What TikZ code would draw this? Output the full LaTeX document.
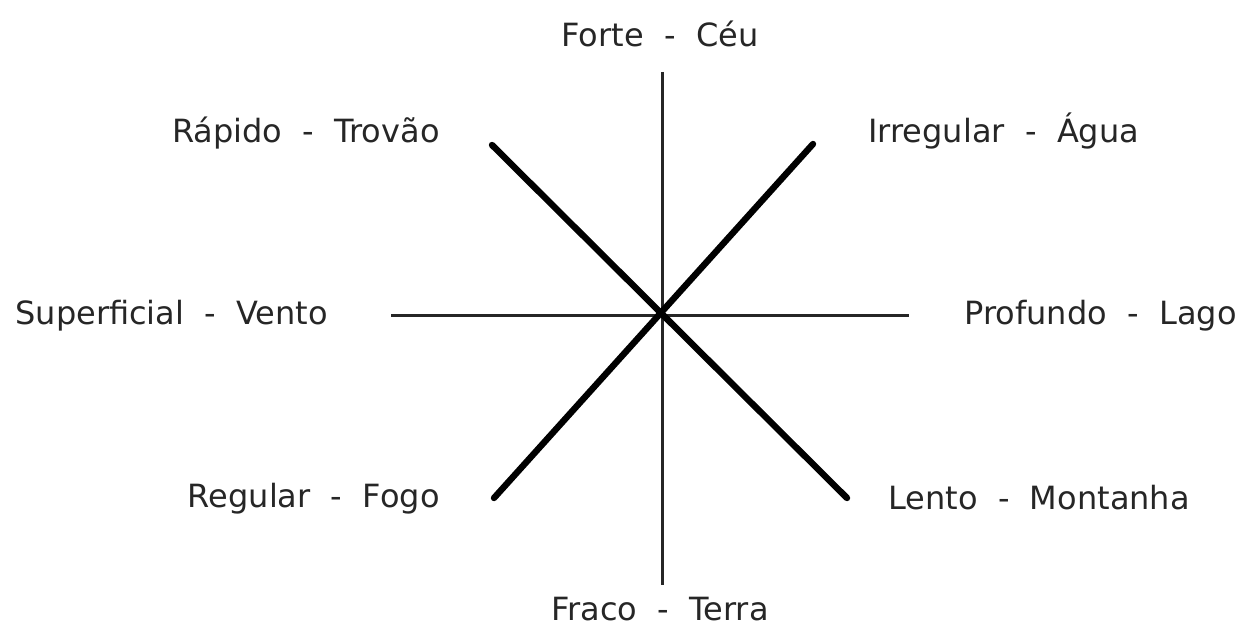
\documentclass[tikz,border=0pt]{standalone}
\usepackage{fontspec}
\setmainfont{DejaVu Sans}
\usetikzlibrary{positioning}

\begin{document}
\begin{tikzpicture}[
  x=0.5pt, y=-0.5pt,
  font=\fontsize{16}{19}\selectfont,
  thinaxis/.style={line width=1.5pt, draw=black!85},
  thickaxis/.style={line width=3.2pt, line cap=round, draw=black},
  lbl/.style={inner sep=0pt, text=black!85}
]
\useasboundingbox (0,0) rectangle (1241,625);

% --- centre and line ends ---
\coordinate (c) at (662,316);
\coordinate (n) at (662,72);
\coordinate (s) at (662,585);
\coordinate (w) at (391,316);
\coordinate (e) at (909,316);
\coordinate (nw) at (492,145);
\coordinate (ne) at (813,144);
\coordinate (sw) at (494,498);
\coordinate (se) at (847,498);

% --- axes ---
\draw[thinaxis] (n) -- (s);
\draw[thinaxis] (w) -- (e);
\draw[thickaxis] (nw) -- (se);
\draw[thickaxis] (sw) -- (ne);

% --- labels ---
\node[lbl, anchor=base] (forte) at (660,47) {Forte~~-~~Céu};
\node[lbl, anchor=base east] (rapido) at (440,143) {Rápido~~-~~Trovão};
\node[lbl, anchor=base west] (irreg) at (868,143) {Irregular~~-~~Água};
\node[lbl, anchor=base west] (superf) at (15,325) {Superficial~~-~~Vento};
\node[lbl, anchor=base east] (profundo) at (1237,325) {Profundo~~-~~Lago};
\node[lbl, anchor=base east] (regular) at (440,507) {Regular~~-~~Fogo};
\node[lbl, anchor=base west] (lento) at (888,509) {Lento~~-~~Montanha};
\node[lbl, anchor=base] (fraco) at (660,620) {Fraco~~-~~Terra};

\end{tikzpicture}
\end{document}
